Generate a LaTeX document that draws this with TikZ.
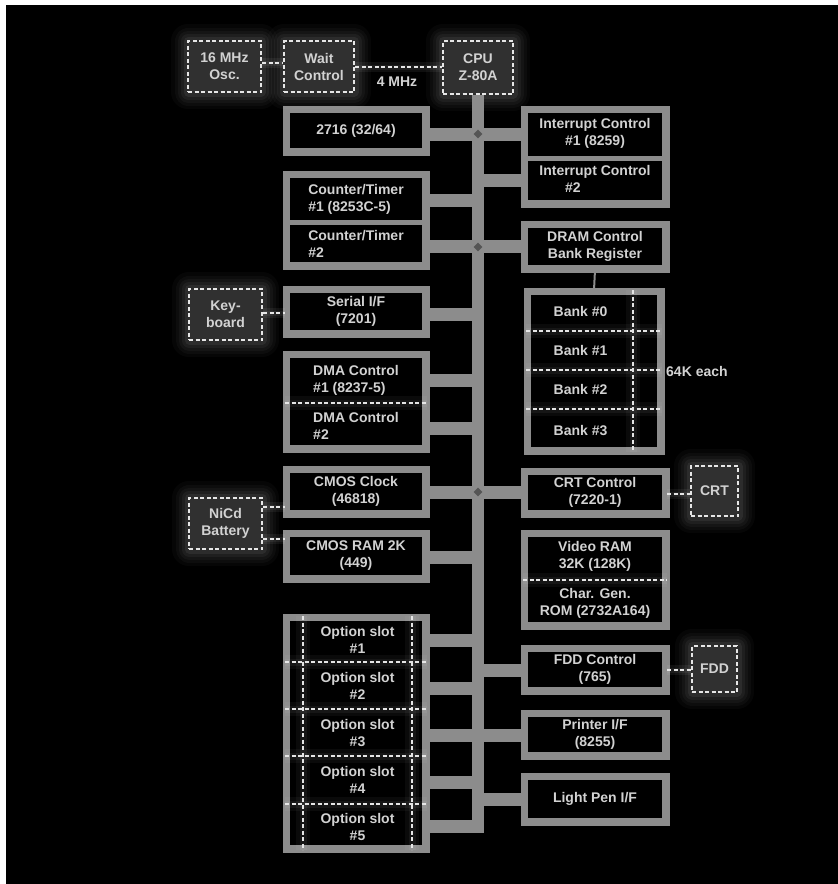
\documentclass[tikz,border=0pt]{standalone}
\usepackage{fontspec}
\setmainfont{Liberation Sans}
\usetikzlibrary{shapes.geometric}
\definecolor{bordergrey}{HTML}{8C8C8C}
\definecolor{txtgrey}{HTML}{D2D2D2}
\definecolor{dashwhite}{HTML}{E6E6E6}
\definecolor{dbfill}{HTML}{303030}
\definecolor{knotgrey}{HTML}{555555}
\tikzset{
  sz/.style 2 args={minimum width=#1,minimum height=#2},
  box/.style={draw=bordergrey,line width=5pt,fill=black,inner sep=0pt,rectangle,
    text=txtgrey,font=\bfseries\fontsize{14}{17}\selectfont,align=center},
  lbl/.style={text=txtgrey,font=\bfseries\fontsize{14}{17}\selectfont,align=center,inner sep=0pt},
  lbll/.style={lbl,align=left},
  glow/.style={preaction={draw=white,solid,opacity=0.025,line width=34pt,line join=round},
    preaction={draw=white,solid,opacity=0.03,line width=27pt,line join=round},
    preaction={draw=white,solid,opacity=0.035,line width=21pt,line join=round},
    preaction={draw=white,solid,opacity=0.045,line width=15pt,line join=round},
    preaction={draw=white,solid,opacity=0.06,line width=9pt,line join=round}},
  dbox/.style={glow,draw=dashwhite,line width=2.5pt,dash pattern=on 4pt off 2.5pt,fill=dbfill,
    inner sep=0pt,rectangle,text=txtgrey,font=\bfseries\fontsize{14}{17}\selectfont,align=center},
  dconn/.style={draw=dashwhite,line width=2pt,dash pattern=on 4pt off 2.5pt,
    preaction={draw=white,solid,opacity=0.06,line width=10pt},
    preaction={draw=white,solid,opacity=0.06,line width=5pt}},
  divdash/.style={draw=dashwhite,line width=2.2pt,dash pattern=on 4pt off 2.5pt,
    preaction={draw=white,solid,opacity=0.04,line width=14pt},
    preaction={draw=white,solid,opacity=0.05,line width=7pt}},
  divsolid/.style={draw=bordergrey,line width=5pt},
  busline/.style={draw=bordergrey,line width=12pt},
  stub/.style={draw=bordergrey,line width=13pt},
  knot/.style={diamond,fill=knotgrey,inner sep=0pt,minimum size=9pt},
}
\begin{document}
\begin{tikzpicture}[x=1pt,y=-1pt]
\useasboundingbox (0,0) rectangle (838,884);
\fill[white] (0,0) rectangle (838,884);
\fill[black] (6,5) rectangle (838,884);

% bus
\coordinate (busx) at (478,0);
\coordinate (busbot) at (478,833);
\node[dbox,sz={70}{53}] (cpu) at (478,67.5) {CPU\\Z-80A};

% left column boxes (outlines)
\node[box,sz={137}{40}] (rom) at (356,130.5) {2716 (32/64)};
\node[box,sz={137}{89}] (ct) at (356,220) {};
\node[box,sz={137}{42}] (serial) at (356,311.5) {Serial I/F\\(7201)};
\node[box,sz={137}{92}] (dma) at (356,401.5) {};
\node[box,sz={137}{42}] (cmosclk) at (356,491.5) {CMOS Clock\\(46818)};
\node[box,sz={137}{43}] (cmosram) at (356,556) {CMOS RAM 2K\\(449)};
\node[box,sz={137}{229}] (opt) at (356,733) {};

% right column boxes
\node[box,sz={139}{92}] (intc) at (595,156.5) {};
\node[box,sz={139}{42}] (dram) at (595,246.5) {DRAM Control\\Bank Register};
\node[box,sz={131}{157}] (bank) at (594,371) {};
\node[box,sz={139}{40}] (crt) at (595,492.5) {CRT Control\\(7220-1)};
\node[box,sz={139}{90}] (vram) at (595,579.5) {};
\node[box,sz={139}{40}] (fdc) at (595,669.5) {FDD Control\\(765)};
\node[box,sz={139}{40}] (prn) at (595,734.5) {Printer I/F\\(8255)};
\node[box,sz={139}{43}] (lpen) at (595,799) {Light Pen I/F};

% bus and stubs
\draw[busline] (cpu.south) -- (busbot);
\draw[stub] (rom.east |- 0,134) -- (intc.west |- 0,134);
\draw[stub] (busx |- 0,180) -- (intc.west |- 0,180);
\draw[stub] (ct.east |- 0,200) -- (busx |- 0,200);
\draw[stub] (ct.east |- 0,246) -- (dram.west |- 0,246);
\draw[stub] (serial.east |- 0,314) -- (busx |- 0,314);
\draw[stub] (dma.east |- 0,380) -- (busx |- 0,380);
\draw[stub] (dma.east |- 0,428) -- (busx |- 0,428);
\draw[stub] (cmosclk.east |- 0,492) -- (crt.west |- 0,492);
\draw[stub] (cmosram.east |- 0,557) -- (busx |- 0,557);
\draw[stub] (opt.east |- 0,640) -- (busx |- 0,640);
\draw[stub] (busx |- 0,670) -- (fdc.west |- 0,670);
\draw[stub] (opt.east |- 0,688) -- (busx |- 0,688);
\draw[stub] (opt.east |- 0,735) -- (prn.west |- 0,735);
\draw[stub] (opt.east |- 0,782) -- (busx |- 0,782);
\draw[stub] (busx |- 0,799) -- (lpen.west |- 0,799);
\draw[stub] (opt.east |- 0,826) -- (busx |- 0,826);
\node[knot] (k1) at (478,134) {};
\node[knot] (k2) at (478,247) {};
\node[knot] (k3) at (478,492) {};

% redraw box borders over stub ends
\foreach \n in {rom,ct,serial,dma,cmosclk,cmosram,opt,intc,dram,bank,crt,vram,fdc,prn,lpen}
  \draw[draw=bordergrey,line width=5pt] (\n.north west) rectangle (\n.south east);

% dividers
\draw[divsolid] (ct.west |- 0,222) -- (ct.east |- 0,222);
\draw[divsolid] (intc.west |- 0,158) -- (intc.east |- 0,158);
\draw[divdash] (dma.west |- 0,403) -- (dma.east |- 0,403);
\draw[divdash] (vram.west |- 0,580) -- (vram.east |- 0,580);
\draw[divdash] (633,0 |- bank.north) -- (633,0 |- bank.south);
\foreach \yy in {331,370,409}
  \draw[divdash] (bank.west |- 0,\yy) -- (bank.east |- 0,\yy);
\draw[divdash] (303,0 |- opt.north) -- (303,0 |- opt.south);
\draw[divdash] (412,0 |- opt.north) -- (412,0 |- opt.south);
\foreach \yy in {662,709,756,804}
  \draw[divdash] (opt.west |- 0,\yy) -- (opt.east |- 0,\yy);

% inner texts
\node[lbll] (ct1t) at (356,199) {Counter/Timer\\\#1 (8253C-5)};
\node[lbll] (ct2t) at (356,244) {Counter/Timer\\\#2};
\node[lbll] (dma1t) at (356,380) {DMA Control\\\#1 (8237-5)};
\node[lbll] (dma2t) at (356,426) {DMA Control\\\#2};
\node[lbl] (int1t) at (595,133) {Interrupt Control\\\#1 (8259)};
\node[lbl] (int2t) at (595,180) {Interrupt Control\\\#2\phantom{ (8259)}};
\node[lbl] (b0) at (580.5,311) {Bank \#0};
\node[lbl] (b1) at (580.5,350.5) {Bank \#1};
\node[lbl] (b2) at (580.5,389.5) {Bank \#2};
\node[lbl] (b3) at (580.5,430.5) {Bank \#3};
\node[lbl,anchor=west] (each) at (666,371) {64K each};
\node[lbl] (vr1) at (595,556) {Video RAM\\32K (128K)};
\node[lbl] (vr2) at (595,603) {Char. Gen.\\ROM (2732A164)};
\node[lbl] (s1) at (357.5,640) {Option slot\\\#1};
\node[lbl] (s2) at (357.5,685.5) {Option slot\\\#2};
\node[lbl] (s3) at (357.5,732.5) {Option slot\\\#3};
\node[lbl] (s4) at (357.5,780) {Option slot\\\#4};
\node[lbl] (s5) at (357.5,827) {Option slot\\\#5};

% DRAM to bank
\draw[draw=bordergrey,line width=2pt] (dram.south) -- (bank.north);

% peripheral dashed boxes
\node[dbox,sz={73}{51}] (osc) at (224.5,66.5) {16 MHz\\Osc.};
\node[dbox,sz={70}{51}] (wait) at (319,66.5) {Wait\\Control};
\node[dbox,sz={73}{51}] (kbd) at (225.5,314.5) {Key-\\board};
\node[dbox,sz={73}{51}] (nicd) at (225.5,523.5) {NiCd\\Battery};
\node[dbox,sz={47}{50}] (crtd) at (714.5,491) {CRT};
\node[dbox,sz={45}{46}] (fdd) at (714.5,669) {FDD};

\draw[dconn] (osc.east |- 0,63) -- (wait.west |- 0,63);
\draw[dconn] (wait.east |- 0,67) -- (cpu.west |- 0,67);
\node[lbl] (mhz) at (397,82) {4 MHz};
\draw[dconn] (kbd.east |- 0,313) -- (serial.west |- 0,313);
\draw[dconn] (nicd.east |- 0,507) -- (cmosclk.west |- 0,507);
\draw[dconn] (nicd.east |- 0,539) -- (cmosram.west |- 0,539);
\draw[dconn] (crt.east |- 0,494) -- (crtd.west |- 0,494);
\draw[dconn] (fdc.east |- 0,670) -- (fdd.west |- 0,670);
\end{tikzpicture}
\end{document}
